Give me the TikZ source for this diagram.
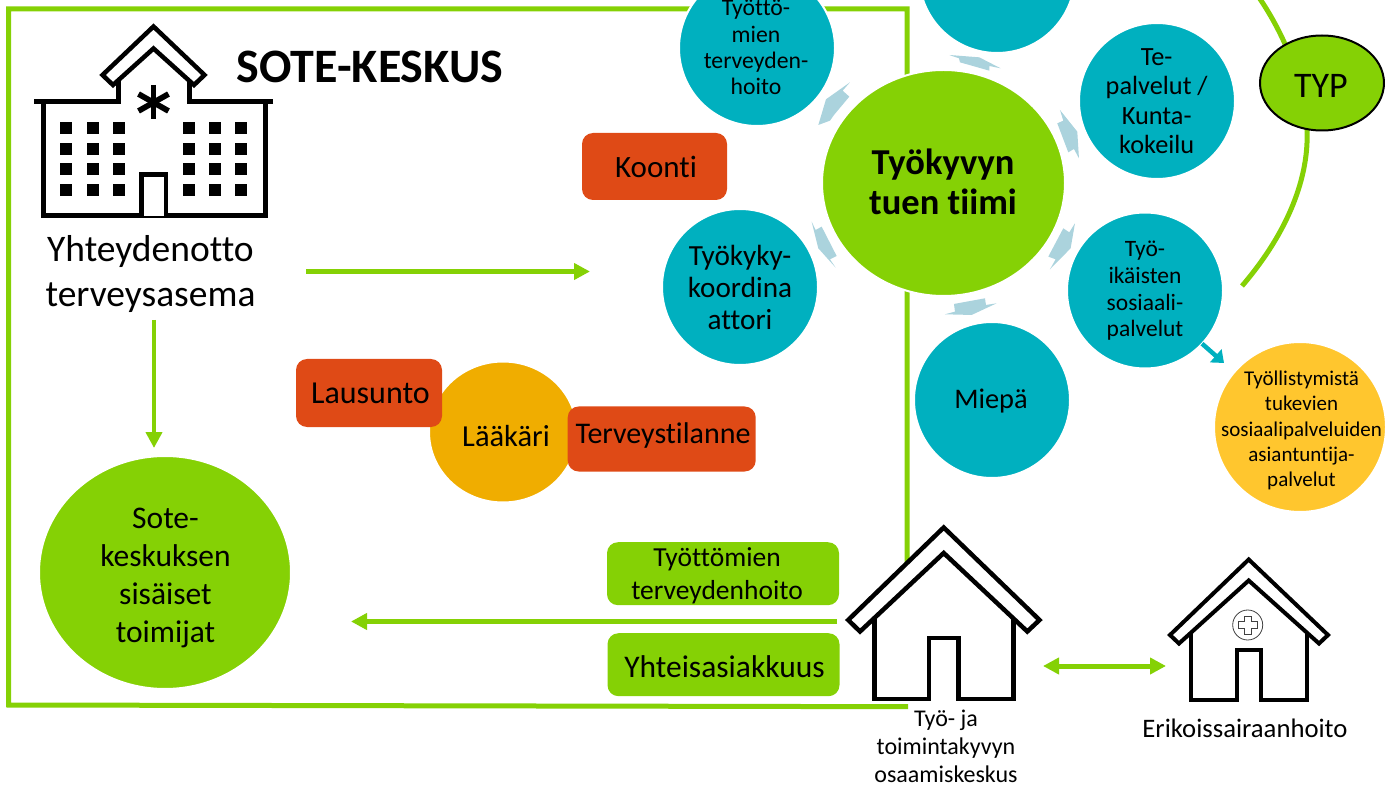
\documentclass[tikz,border=0pt]{standalone}
\usepackage{fontspec}
\setmainfont{Carlito}[Ligatures=NoCommon]
\usetikzlibrary{arrows.meta,shapes.geometric}
\definecolor{grn}{HTML}{85D105}
\definecolor{tealc}{HTML}{00B0BF}
\definecolor{redb}{HTML}{DF4A16}
\definecolor{amber}{HTML}{F0AD00}
\definecolor{yell}{HTML}{FFC62E}
\definecolor{lblue}{HTML}{ABD3DD}
\newcommand{\fs}[2]{\fontsize{#1}{#2}\selectfont}
\tikzset{
  x=1pt,y=-1pt,
  blob/.style={ellipse,inner sep=0pt,outer sep=0pt,draw=white,line width=2pt,fill=#1},
  teal/.style={blob=tealc,minimum width=156pt,minimum height=156pt},
  txt/.style={align=center,inner sep=0pt,text=black},
  rbox/.style={rectangle,rounded corners=11pt,fill=#1,inner sep=0pt,outer sep=0pt},
  frameline/.style={draw=grn,line width=5pt},
  garrow/.style={draw=grn,line width=4.5pt,-{Triangle[length=16pt,width=16pt]}},
  icon/.style={draw=black,line width=4.5pt,fill=white,miter limit=10},
  iconb/.style={draw=black,line width=5pt,miter limit=10},
  swirl/.style={fill=lblue,draw=none},
}
\begin{document}
\begin{tikzpicture}
\useasboundingbox (0,0) rectangle (1385,786);
% frame
\draw[frameline,line cap=butt] (907,600) -- (907,9) -- (8.7,9) -- (8.7,705) -- (908,706.7);
% TYP arc
\draw[frameline] (1242,286) .. controls (1290,230) and (1309,175) .. (1307,130) .. controls (1305,85) and (1285,35) .. (1258,-4);
% circles
\node[teal] (tyot) at (757,48) {};
\node[teal] (top) at (997,-25) {};
\node[teal] (te) at (1157,101) {};
\node[teal] (tyoik) at (1145,290.5) {};
\node[teal] (koord) at (740,287) {};
\node[teal] (miepa) at (992,400) {};
\node[blob=grn,minimum width=243pt,minimum height=226pt] (tiimi) at (943.5,183) {};
\node[blob=yell,minimum width=172pt,minimum height=170pt] (yellow) at (1300,427) {};
\node[ellipse,draw=black,line width=2pt,fill=grn,minimum width=124pt,minimum height=95pt,inner sep=0pt] (typ) at (1322,83) {};
\node[blob=grn,minimum width=252pt,minimum height=233pt] (sote) at (165,572.5) {};
\node[blob=amber,minimum width=148pt,minimum height=141pt] (laak) at (503,432) {};
% swirl arrows
\begin{scope}[shift={(650,0)},x=0.3333pt,y=-0.3333pt]
\fill[swirl] (505,375)--(528,298)--(600,247)--(578,272)--(598,290)--(552,345)--(540,362)--cycle;
\fill[swirl] (898,165)--(988,172)--(1052,205)--(1018,198)--(1018,212)--(930,187)--(927,175)--cycle;
\fill[swirl] (1230,330)--(1282,395)--(1287,475)--(1272,447)--(1255,457)--(1222,370)--(1240,362)--cycle;
\fill[swirl] (1275,670)--(1262,745)--(1200,808)--(1217,778)--(1195,770)--(1240,685)--(1258,697)--cycle;
\fill[swirl] (1040,910)--(965,945)--(885,943)--(915,935)--(912,912)--(1005,895)--(1008,915)--cycle;
\fill[swirl] (485,665)--(497,690)--(515,680)--(560,768)--(540,778)--(557,803)--(505,745)--cycle;
\end{scope}
% boxes
\node[rbox=redb,minimum width=145pt,minimum height=67pt] (koonti) at (654.5,166.5) {};
\node[rbox=redb,minimum width=146pt,minimum height=68pt] (laus) at (369,393) {};
\node[rbox=redb,minimum width=188pt,minimum height=65pt] (terv) at (661.7,439) {};
\node[rbox=grn,minimum width=232pt,minimum height=63pt] (gb1) at (723,573.7) {};
\node[rbox=grn,minimum width=232pt,minimum height=63pt] (gb2) at (723.5,664.7) {};
% connector coordinates
\coordinate (a1s) at (306,271.5);
\coordinate (a1e) at (590,271.5);
\coordinate (a2s) at (154,320);
\coordinate (a2e) at (154,448);
\coordinate (a3s) at (837,621.5);
\coordinate (a3e) at (351,621.5);
\coordinate (a4s) at (1043,666);
\coordinate (a4e) at (1166,666);
\coordinate (a5e) at (1224,363);
\draw[garrow] (a1s) -- (a1e);
\draw[garrow] (a2s) -- (a2e);
\draw[garrow] (a3s) -- (a3e);
\draw[garrow,line width=5pt,{Triangle[length=16pt,width=16pt]}-{Triangle[length=16pt,width=16pt]}] (a4s) -- (a4e);
\draw[draw=tealc,line width=4.5pt,-{Triangle[length=11pt,width=17pt]}] (tyoik.-43) -- (a5e);
% building icon
\draw[iconb] (43,102) -- (43,216) -- (265,216) -- (265,102);
\draw[iconb] (34,102) -- (118.5,102) -- (118.5,80);
\draw[iconb] (273,102) -- (189,102) -- (189,80);
\draw[icon] (153.5,26.5) -- (204.5,75) -- (194,85) -- (153.5,48.5) -- (113,85) -- (102.5,75) -- cycle;
\draw[icon] (141.7,216) -- (141.7,174.5) -- (165.8,174.5) -- (165.8,216);
\foreach \wx in {66,93,119,189,215,241}
  \foreach \wy in {128,149,169,190}
    \fill[black] (\wx-6,\wy-6) rectangle (\wx+6,\wy+6);
\draw[black,line width=5.7pt] (153.5,85) -- (153.5,119);
\draw[black,line width=5.7pt] (138.5,94) -- (168.5,111);
\draw[black,line width=5.7pt] (138.5,111) -- (168.5,94);
% house 1
\fill[white] (874.3,610) -- (874.3,699) -- (1013.3,699) -- (1013.3,610) -- (943.7,550) -- cycle;
\draw[icon,fill=none] (874.3,615) -- (874.3,699) -- (929,699) -- (929,638) -- (958.3,638) -- (958.3,699) -- (1013.3,699) -- (1013.3,615);
\draw[icon] (943.7,527.5) -- (1039.5,620) -- (1027.3,631.5) -- (943.7,553) -- (860,631.5) -- (848.2,620) -- cycle;
% house 2
\fill[white] (1191,630) -- (1191,700) -- (1307.3,700) -- (1307.3,630) -- (1248.7,578) -- cycle;
\draw[icon,fill=none,line width=4pt] (1191,632) -- (1191,700) -- (1236.7,700) -- (1236.7,650) -- (1261,650) -- (1261,700) -- (1307.3,700) -- (1307.3,632);
\draw[icon,line width=4pt] (1248.7,559.5) -- (1328,635) -- (1319,643.5) -- (1248.7,580.5) -- (1179,643.5) -- (1170,635) -- cycle;
\node[circle,draw=black!75,line width=0.8pt,minimum size=30pt,inner sep=0pt] (plus) at (1247.7,625) {};
\draw[black!75,line width=0.8pt] (1244.5,616) -- (1251,616) -- (1251,621.8) -- (1257,621.8) -- (1257,628.2) -- (1251,628.2) -- (1251,634) -- (1244.5,634) -- (1244.5,628.2) -- (1238.5,628.2) -- (1238.5,621.8) -- (1244.5,621.8) -- cycle;
% texts
\node[txt,font=\fs{48}{56}\bfseries] at (370,66.5) {SOTE-KESKUS};
\node[txt,font=\fs{37.5}{44.5}] at (150.5,274) {Yhteydenotto\\terveysasema};
\node[txt,font=\fs{31.5}{38}] at (165.5,578) {Sote-\\keskuksen\\sisäiset\\toimijat};
\node[txt,font=\fs{31}{34}] at (656,167) {Koonti};
\node[txt,font=\fs{32}{34}] at (370.5,393) {Lausunto};
\node[txt,font=\fs{30.5}{34}] at (506,436) {Lääkäri};
\node[txt,font=\fs{30}{34}] at (663,436) {Terveystilanne};
\node[txt,font=\fs{27.5}{33}] at (717,576) {Työttömien\\terveydenhoito};
\node[txt,font=\fs{31.5}{36}] at (724.5,667) {Yhteisasiakkuus};
\node[txt,font=\fs{23.7}{26.3}] at (756,47.5) {Työttö-\\mien\\terveyden-\\hoito};
\node[txt,font=\fs{29.2}{32}] at (740,287) {Työkyky-\\koordina\\attori};
\node[txt,font=\fs{26.3}{29.5}] at (1156.7,101) {Te-\\palvelut /\\Kunta-\\kokeilu};
\node[txt,font=\fs{23.5}{26.7}] at (1145,291) {Työ-\\ikäisten\\sosiaali-\\palvelut};
\node[txt,font=\fs{28.4}{32}] at (991,401) {Miepä};
\node[txt,font=\fs{36}{40}] at (1321,86) {TYP};
\node[txt,font=\fs{36.5}{40}\bfseries] at (943,182) {Työkyvyn\\tuen tiimi};
\node[txt,font=\fs{21}{25.3}] at (1301.5,430.5) {Työllistymistä\\tukevien\\sosiaalipalveluiden\\asiantuntija-\\palvelut};
\node[txt,font=\fs{24}{28}] at (946,746) {Työ- ja\\toimintakyvyn\\osaamiskeskus};
\node[txt,font=\fs{26.7}{30}] at (1245,728.5) {Erikoissairaanhoito};
\end{tikzpicture}
\end{document}
